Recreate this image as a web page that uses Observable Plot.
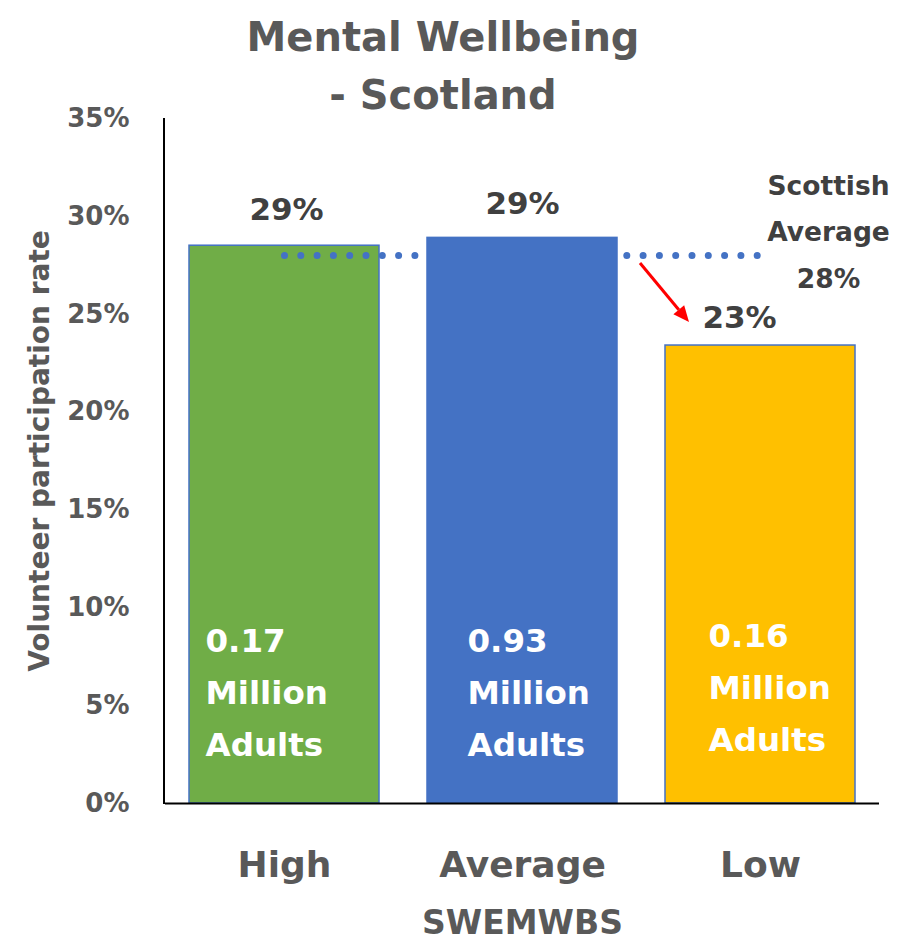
<!DOCTYPE html>
<html>
<head>
<meta charset="utf-8">
<script src="https://cdn.jsdelivr.net/npm/d3@7"></script>
<script src="https://cdn.jsdelivr.net/npm/@observablehq/plot@0.6"></script>
<style>
  body { margin: 0; background: #ffffff; }
  #wrap { position: relative; width: 906px; height: 941px; }
  #title {
    position: absolute; left: 0; top: 0; width: 886px; text-align: center;
    font-family: "DejaVu Sans", sans-serif; font-weight: bold; font-size: 40px;
    line-height: 58px; padding-top: 8px; color: #595959; z-index: 2;
  }
</style>
</head>
<body>
<div id="wrap">
  <div id="title">Mental Wellbeing<br>- Scotland</div>
</div>
<script>
// ---- data ----
const categories = ["High", "Average", "Low"];
const rates = [0.285, 0.289, 0.234];
const rateLabels = ["29%", "29%", "23%"];
const adultsMillions = ["0.17", "0.93", "0.16"];
const barColors = ["#70AD47", "#4472C4", "#FFC000"];
const scottishAverage = 0.28;
const yTicks = [0, 0.05, 0.10, 0.15, 0.20, 0.25, 0.30, 0.35];
const yTitle = "Volunteer participation rate";
const xTitle = "SWEMWBS";

const data = categories.map((c, i) => ({
  cat: c, rate: rates[i], label: rateLabels[i], adults: adultsMillions[i], color: barColors[i]
}));
const avgLine = [{cat: "High", v: scottishAverage}, {cat: "Low", v: scottishAverage}];
const pct = d3.format(".0%");

// offsets for labels (style only)
const innerOffset = {High: [-79, -116], Average: [-55, -116], Low: [-52, -121]};
const valueOffset = {High: [2, -36], Average: [0, -34], Low: [-21, -27]};

const font = "DejaVu Sans";

// left axis line drawn from the scales
const yAxisLine = (index, scales) => {
  const x0 = scales.x.range()[0] - 1;
  const [d0, d1] = scales.y.domain();
  const g = d3.create("svg:g");
  g.append("line").attr("x1", x0).attr("x2", x0)
    .attr("y1", scales.y(d0) + 1).attr("y2", scales.y(d1))
    .attr("stroke", "#000000").attr("stroke-width", 2);
  return g.node();
};

// red arrow from the average line down to the Low bar
const arrowMark = (index, scales) => {
  const x = scales.x, y = scales.y;
  const bw = x.bandwidth ? x.bandwidth() : 190;
  const x1 = x("Average") + bw + 23, y1 = y(scottishAverage) + 8;
  const x2 = x("Low") + 24, y2 = y(rates[2]) - 23;
  const ang = Math.atan2(y2 - y1, x2 - x1);
  const hl = 16, hw = 7;
  const bx = x2 - hl * Math.cos(ang), by = y2 - hl * Math.sin(ang);
  const g = d3.create("svg:g");
  g.append("line").attr("x1", x1).attr("y1", y1).attr("x2", bx).attr("y2", by)
    .attr("stroke", "#FF0000").attr("stroke-width", 3);
  const px = -Math.sin(ang), py = Math.cos(ang);
  g.append("polygon")
    .attr("points", `${x2},${y2} ${bx + px * hw},${by + py * hw} ${bx - px * hw},${by - py * hw}`)
    .attr("fill", "#FF0000");
  return g.node();
};

const marks = [
  Plot.barY(data.filter(d => d.cat !== "Average"), {
    x: "cat", y: "rate", fill: d => d.color, stroke: "#4472C4", strokeWidth: 1.5
  }),
  Plot.line(avgLine, {
    x: "cat", y: "v", stroke: "#4472C4", strokeWidth: 7,
    strokeDasharray: "0 16.3", strokeLinecap: "round"
  }),
  Plot.barY(data.filter(d => d.cat === "Average"), {
    x: "cat", y: "rate", fill: d => d.color, stroke: "#4472C4", strokeWidth: 1.5
  }),
  Plot.ruleY([0], {stroke: "#000000", strokeWidth: 2}),
  yAxisLine,
  arrowMark,
  Plot.text([yTitle], {
    frameAnchor: "left", textAnchor: "middle", rotate: -90, dx: -125, dy: -10,
    fontSize: 28, fill: "#595959", fontWeight: "bold"
  }),
  Plot.text(categories, {
    x: d => d, frameAnchor: "bottom", lineAnchor: "middle", dy: 62,
    fontSize: 36, fill: "#595959", fontWeight: "bold"
  }),
  Plot.text([xTitle], {
    frameAnchor: "bottom", lineAnchor: "middle", dy: 120,
    fontSize: 33, fill: "#595959", fontWeight: "bold"
  }),
  Plot.text([scottishAverage], {
    x: () => "Low", y: d => d, text: d => `Scottish\nAverage\n${pct(d)}`,
    dx: 68, dy: -29, lineHeight: 1.75, fontSize: 26.5, fill: "#404040", fontWeight: "bold"
  })
];

for (const d of data) {
  const [vdx, vdy] = valueOffset[d.cat];
  marks.push(Plot.text([d], {
    x: "cat", y: "rate", text: "label", dx: vdx, dy: vdy,
    fontSize: 31, fill: "#404040", fontWeight: "bold"
  }));
  const [idx, idy] = innerOffset[d.cat];
  marks.push(Plot.text([d], {
    x: "cat", text: e => `${e.adults}\nMillion\nAdults`, frameAnchor: "bottom",
    textAnchor: "start", lineAnchor: "middle", lineHeight: 1.6, dx: idx, dy: idy,
    fontSize: 32.5, fill: "#ffffff", fontWeight: "bold"
  }));
}

const chart = Plot.plot({
  width: 906,
  height: 941,
  marginTop: 118,
  marginBottom: 138,
  marginLeft: 165,
  marginRight: 27,
  style: {fontFamily: font, fontWeight: "bold", fontSize: "26px", color: "#595959", background: "#ffffff"},
  x: {domain: categories, paddingInner: 0.2, paddingOuter: 0.1, axis: null},
  y: {
    domain: [0, 0.35], ticks: yTicks, tickFormat: pct, tickSize: 0, tickPadding: 36,
    label: null
  },
  marks
});
document.getElementById("wrap").prepend(chart);
</script>
</body>
</html>
